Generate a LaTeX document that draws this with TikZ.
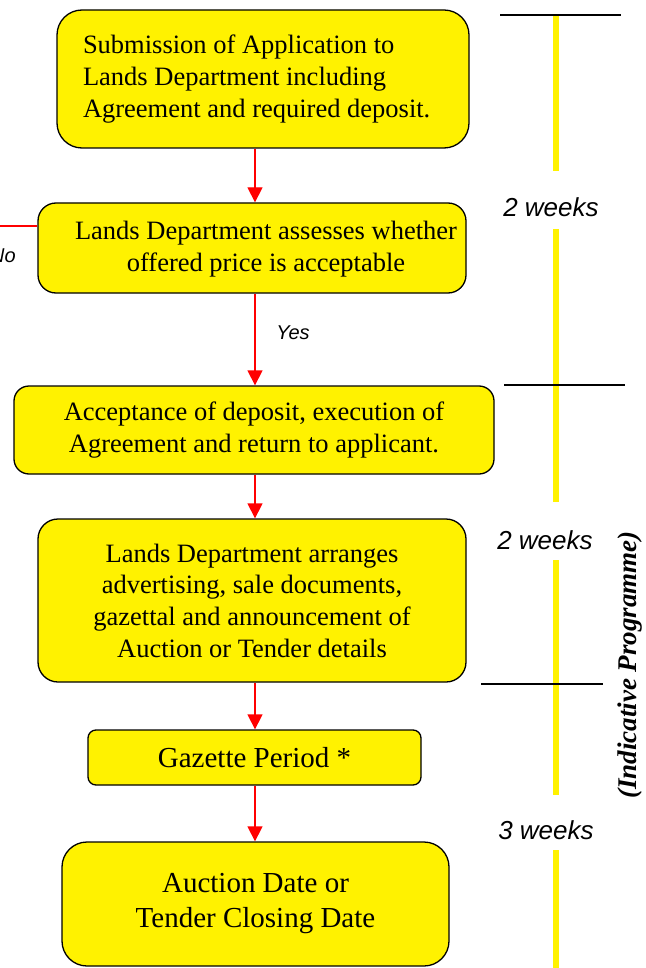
\documentclass[tikz,border=0pt]{standalone}
\usepackage{fontspec}
\setmainfont{Liberation Serif}
\setsansfont{Liberation Sans}
\usetikzlibrary{arrows.meta}
\tikzset{
  stepbox/.style={draw=black, line width=1.3pt, fill=yellow, inner sep=0pt,
    align=center, font=\fontsize{26.5}{31.7}\selectfont},
  bigtext/.style={font=\fontsize{29}{35}\selectfont},
  boxtext/.style={inner sep=0pt, align=center, font=\fontsize{26.5}{31.7}\selectfont},
  arr/.style={draw=red, line width=1.3pt, -{Triangle[width=15pt,length=15pt]}},
  redline/.style={draw=red, line width=1.3pt},
  tline/.style={draw=yellow, line width=6pt},
  tick/.style={draw=black, line width=1.3pt},
  wk/.style={font=\sffamily\itshape\fontsize{26}{30}\selectfont, inner sep=0pt},
  lbl/.style={font=\sffamily\itshape\fontsize{20}{24}\selectfont, inner sep=0pt}
}
\begin{document}
\begin{tikzpicture}[x=1pt,y=-1pt]
\useasboundingbox (0,0) rectangle (645,968);
\clip (0,0) rectangle (645,968);
% boxes
\node[stepbox, rounded corners=25pt, minimum width=412pt, minimum height=138pt,
      text width=360pt, inner xsep=26pt, align=flush left] (b1) at (263,79)
  {Submission of Application to\\Lands Department including\\Agreement and required deposit.};
\node[stepbox, rounded corners=18pt, minimum width=428pt, minimum height=90pt] (b2) at (252,248) {};
\node[boxtext] (b2t) at (266,249)
  {Lands Department assesses whether\\offered price is acceptable};
\node[stepbox, rounded corners=15pt, minimum width=480pt, minimum height=88pt] (b3) at (254,430)
  {Acceptance of deposit, execution of\\Agreement and return to applicant.};
\node[stepbox, rounded corners=20pt, minimum width=428pt, minimum height=163pt] (b4) at (252,600.5)
  {Lands Department arranges\\advertising, sale documents,\\gazettal and announcement of\\Auction or Tender details};
\node[stepbox, bigtext, rounded corners=8pt, minimum width=333pt, minimum height=55pt] (b5) at (254.5,757.5)
  {Gazette Period *};
\node[stepbox, bigtext, rounded corners=25pt, minimum width=387pt, minimum height=124pt] (b6) at (255.5,904)
  {Auction Date or\\Tender Closing Date};
% connectors
\coordinate (ax) at (255,0);
\draw[arr] (b1.south -| ax) -- (b2.north -| ax);
\draw[arr] (b2.south -| ax) -- (b3.north -| ax);
\draw[arr] (b3.south -| ax) -- (b4.north -| ax);
\draw[arr] (b4.south -| ax) -- (b5.north -| ax);
\draw[arr] (b5.south -| ax) -- (b6.north -| ax);
\node[lbl] (yes) at (293,333) {Yes};
\coordinate (noend) at (-5,226);
\draw[redline] (b2.west |- noend) -- (noend);
\node[lbl, anchor=east] (no) at (16,256) {No};
% timeline
\coordinate (t0) at (556,15);
\coordinate (t1) at (556,171);
\coordinate (t2) at (556,229);
\coordinate (t3) at (556,502);
\coordinate (t4) at (556,560);
\coordinate (t5) at (556,795);
\coordinate (t6) at (556,850);
\coordinate (t7) at (556,975);
\draw[tline] (t0) -- (t1);
\draw[tline] (t2) -- (t3);
\draw[tline] (t4) -- (t5);
\draw[tline] (t6) -- (t7);
\coordinate (k1a) at (500,15);  \coordinate (k1b) at (621,15);
\coordinate (k2a) at (504,385); \coordinate (k2b) at (625,385);
\coordinate (k3a) at (481,684); \coordinate (k3b) at (603,684);
\draw[tick] (k1a) -- (k1b);
\draw[tick] (k2a) -- (k2b);
\draw[tick] (k3a) -- (k3b);
\node[wk] (w1) at (551,207) {2 weeks};
\node[wk] (w2) at (545,540) {2 weeks};
\node[wk] (w3) at (546,830) {3 weeks};
\node[font=\bfseries\itshape\fontsize{27}{30}\selectfont, rotate=90, inner sep=0pt] (ip) at (630,665) {(Indicative Programme)};
\end{tikzpicture}
\end{document}
